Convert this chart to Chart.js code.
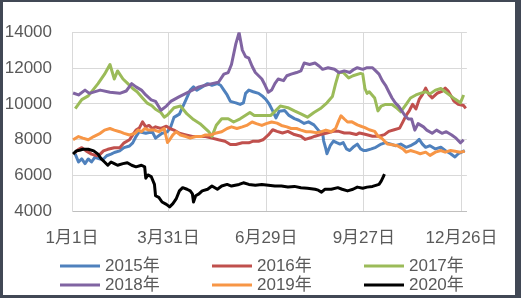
<!DOCTYPE html>
<html>
<head>
<meta charset="utf-8">
<script src="https://cdn.jsdelivr.net/npm/chart.js@4.4.1/dist/chart.umd.min.js"></script>
<style>
  html, body { margin: 0; padding: 0; }
  body { width: 521px; height: 298px; background: #414855; position: relative; overflow: hidden; }
  #wrap { position: absolute; left: 3px; top: 2px; width: 512px; height: 293px; background: #ffffff; }
</style>
</head>
<body>
<div id="wrap"><canvas id="chart" width="512" height="293"></canvas></div>
<script>
// x positions are day of year (0 = 1月1日)
const xTickDays = [0, 89, 179, 269, 359];
const xTickLabels = ["1月1日", "3月31日", "6月29日", "9月27日", "12月26日"];
const yTicks = [4000, 6000, 8000, 10000, 12000, 14000];

const seriesNames = ["2015年", "2016年", "2017年", "2018年", "2019年", "2020年"];
const seriesColors = ["#4F81BD", "#C0504D", "#9BBB59", "#8064A2", "#F79646", "#000000"];

const days2015 = [3,6,9,12,15,18,21,26,29,32,36,39,44,48,53,56,59,62,68,74,77,83,88,91,94,99,105,109,112,115,120,125,129,134,137,140,143,146,151,155,158,160,163,167,172,176,179,182,185,188,191,196,200,205,209,214,218,223,228,231,232,234,235,238,241,244,247,250,253,256,259,263,266,269,271,276,280,285,289,294,298,303,308,312,317,320,323,326,330,335,340,344,349,353,356,359,362];
const vals2015 = [7200,6760,6930,6670,6930,6760,7020,6930,6930,7110,7200,7290,7380,7560,7650,7830,8180,8450,8360,8450,8090,8360,8450,8720,9250,9430,10230,10770,10950,10770,10950,11130,11040,11130,11040,10770,10500,10140,10060,9970,10060,10590,10770,10680,10590,10410,10230,9970,9610,9220,9590,9630,9360,9180,9090,8910,9000,8830,8470,8380,7930,7490,7220,7670,7930,7840,7760,7840,7490,7400,7580,7760,7490,7400,7400,7490,7580,7760,7840,7760,7670,7760,7580,7670,7840,8020,7760,7580,7670,7490,7580,7400,7220,7040,7220,7310,7400];

const days2016 = [3,6,9,13,18,23,26,29,33,39,44,48,53,56,59,62,65,68,71,74,77,82,87,90,94,99,105,111,117,123,129,135,141,146,151,157,163,167,172,176,181,185,189,194,199,205,211,215,220,224,229,235,241,246,251,256,262,265,271,277,283,288,292,297,302,305,308,311,314,317,320,323,326,329,332,337,341,344,347,352,356,361,363];
const vals2016 = [7290,7470,7560,7380,7200,7110,7200,7380,7470,7560,7560,7830,8000,8270,8540,8650,9000,8720,8800,8630,8720,8630,8760,8630,8540,8360,8270,8180,8180,8180,8090,8000,7920,7740,7740,7830,7830,7920,7920,8000,8270,8560,8470,8380,8470,8290,8200,8020,8110,8200,8290,8380,8470,8470,8380,8380,8290,8380,8290,8200,8200,8290,8470,8560,8650,9000,9360,9630,9980,9720,10250,10520,10880,10520,10340,10610,10700,10880,10700,10160,9980,9910,9750];

const days2017 = [3,9,15,24,30,35,39,42,47,51,56,60,65,69,74,77,82,85,88,94,100,106,112,118,126,129,133,138,144,149,155,164,168,179,183,192,199,205,211,217,223,229,235,240,243,246,250,255,259,266,268,270,272,274,279,282,285,289,295,300,303,308,312,317,321,326,330,335,340,344,349,353,358,361];
const vals2017 = [9740,10240,10450,11130,11660,12200,11390,11840,11390,11160,10860,10680,10330,10060,9880,9700,9520,9260,9380,9790,9880,9440,9130,8900,8460,8190,8810,9170,9170,8990,9170,9520,9350,9350,9350,9880,9790,9610,9440,9260,9520,9740,10060,10410,11130,11750,11750,11450,11570,11700,11660,10860,10590,10680,10330,9610,9880,9970,9970,9740,9560,9970,10330,10500,10590,10680,10560,10770,10860,10680,10450,10270,10060,10500];

const days2018 = [1,6,12,16,26,35,44,50,55,59,64,68,73,77,82,87,91,99,105,111,117,123,129,135,140,144,147,151,154,157,160,163,166,169,172,175,178,181,184,187,190,195,198,202,207,211,214,219,224,228,231,236,242,246,251,256,260,263,268,272,277,280,283,286,289,292,295,298,301,304,307,310,313,316,319,324,327,332,336,341,345,350,354,358,361];
const vals2018 = [10610,10500,10770,10590,10770,10650,10590,10720,11130,10950,10770,10500,10230,10140,9650,9880,10140,10410,10590,10770,10950,11040,11130,11210,11660,11750,12200,13350,13980,13000,12640,12550,12100,11750,11570,11390,11040,10650,10770,11130,11390,11300,11570,11660,11750,11840,12280,12200,12280,12100,11930,12020,11930,11750,11840,11750,11930,12020,11930,12020,12020,11840,11660,11300,11040,10680,10330,10060,9880,9610,9340,9160,9160,8540,8900,8720,8540,8360,8540,8360,8450,8270,8090,7830,8000];

const days2019 = [1,6,10,15,20,26,30,35,39,44,48,53,58,61,64,67,71,76,80,85,88,90,93,96,100,105,109,114,119,123,128,132,138,143,147,152,157,161,166,170,175,179,184,189,193,198,202,207,211,216,220,225,230,234,239,243,246,248,251,254,258,263,267,270,274,279,282,285,288,291,295,300,305,308,312,317,321,326,330,335,340,344,349,353,358,362];
const vals2019 = [8000,8180,8090,8000,8180,8360,8540,8630,8540,8450,8360,8270,8360,8540,8450,8630,8540,8540,8450,8630,7850,8000,8270,8450,8270,8180,8090,8180,8180,8270,8270,8360,8450,8630,8720,8630,8720,8800,8990,8900,8800,8900,8990,8930,8800,8720,8630,8630,8540,8450,8450,8400,8450,8540,8450,8630,9080,9340,9160,8990,9000,8830,8740,8680,8560,8470,8200,8110,7930,7760,7720,7670,7490,7310,7400,7310,7220,7310,7130,7310,7400,7310,7400,7360,7310,7360];

const days2020 = [1,4,7,10,15,20,24,27,30,33,36,39,42,47,51,55,59,64,67,68,70,73,76,77,80,83,87,90,93,96,99,102,106,109,111,112,114,117,120,125,129,134,138,143,147,154,158,163,169,175,181,187,193,199,205,211,217,224,227,230,233,239,245,249,254,259,263,268,272,277,283,285,287,288];
const vals2020 = [7200,7380,7420,7470,7470,7380,7200,6930,6760,6580,6760,6670,6580,6670,6720,6580,6490,6580,6490,5860,6040,5950,5510,4880,4790,4530,4400,4260,4440,4700,5150,5330,5240,5150,4980,4530,4880,4980,5150,5240,5420,5240,5420,5510,5420,5510,5600,5510,5470,5510,5470,5420,5420,5370,5400,5330,5300,5240,5190,5080,5240,5240,5330,5240,5150,5240,5360,5300,5360,5400,5510,5690,5950,6080];

const allDays = [days2015, days2016, days2017, days2018, days2019, days2020];
const allVals = [vals2015, vals2016, vals2017, vals2018, vals2019, vals2020];

Chart.defaults.font.family = '"Liberation Sans", "Noto Sans CJK SC", sans-serif';
Chart.defaults.font.size = 17;
Chart.defaults.color = "#595959";

// legend laid out in 3 columns, 2 rows
const gridLegend = {
  id: "gridLegend",
  afterDraw(chart) {
    const ctx = chart.ctx;
    ctx.save();
    ctx.font = '17px "Liberation Sans", "Noto Sans CJK SC", sans-serif';
    ctx.textBaseline = "middle";
    ctx.textAlign = "left";
    chart.data.datasets.forEach((ds, i) => {
      let x = 57 + (i % 3) * 152;
      let y = 264 + Math.floor(i / 3) * 19;
      ctx.strokeStyle = ds.borderColor;
      ctx.lineWidth = 3;
      ctx.beginPath();
      ctx.moveTo(x, y);
      ctx.lineTo(x + 40, y);
      ctx.stroke();
      ctx.fillStyle = "#595959";
      ctx.fillText(ds.label, x + 45, y);
    });
    ctx.restore();
  },
};

let datasets = seriesNames.map((name, i) => ({
  label: name,
  data: allDays[i].map((d, k) => ({ x: d, y: allVals[i][k] })),
  borderColor: seriesColors[i],
  backgroundColor: seriesColors[i],
  borderWidth: 3,
  borderJoinStyle: "round",
  pointRadius: 0,
  tension: 0,
  fill: false,
  order: seriesNames.length - 1 - i, // later years drawn on top
}));

new Chart(document.getElementById("chart"), {
  type: "line",
  data: { datasets: datasets },
  plugins: [gridLegend],
  options: {
    responsive: false,
    animation: false,
    layout: { padding: { left: 0, right: 45, top: 22, bottom: 43.5 } },
    plugins: { legend: { display: false }, tooltip: { enabled: false } },
    scales: {
      x: {
        type: "linear",
        min: 0,
        max: 364,
        afterBuildTicks: (scale) => {
          scale.ticks = xTickDays.map((d) => ({ value: d }));
        },
        afterFit: (scale) => {
          scale.height = 40;
        },
        ticks: {
          autoSkip: false,
          maxRotation: 0,
          padding: 17,
          callback: (value) => xTickLabels[xTickDays.indexOf(value)],
        },
        grid: { color: "#d9d9d9", drawTicks: false },
        border: { color: "#bfbfbf" },
      },
      y: {
        min: 4000,
        max: 14000,
        afterBuildTicks: (scale) => {
          scale.ticks = yTicks.map((v) => ({ value: v }));
        },
        afterFit: (scale) => {
          scale.width = 69;
        },
        ticks: { padding: 20, callback: (value) => String(value) },
        grid: { color: "#d9d9d9", drawTicks: false },
        border: { color: "#d9d9d9" },
      },
    },
  },
});
</script>
</body>
</html>
